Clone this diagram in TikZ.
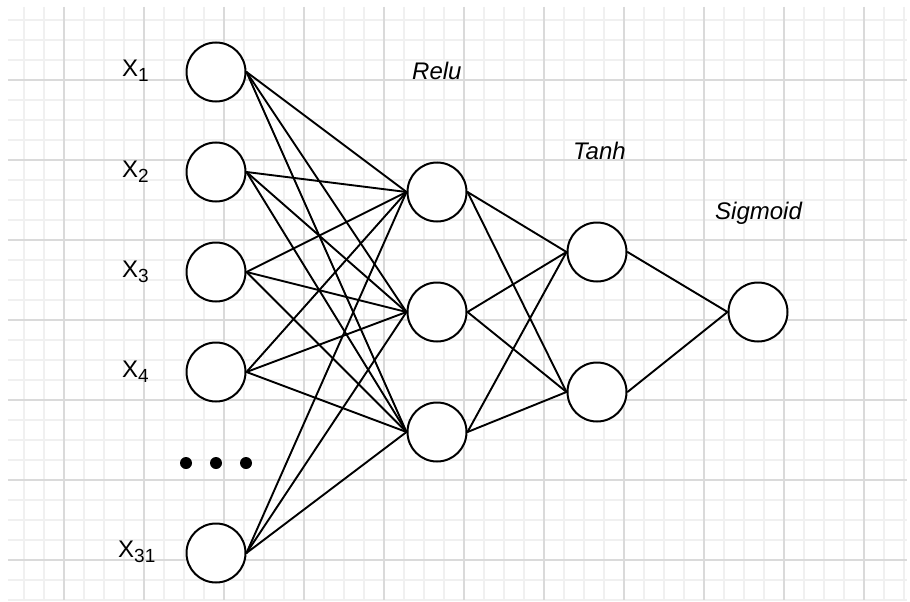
\documentclass[tikz,border=0pt]{standalone}
\usepackage{fontspec}
\setmainfont{Liberation Sans}
\newcommand\lowidx[1]{\raisebox{-5pt}{\fontsize{19}{20}\selectfont #1}}
\definecolor{gridmajor}{HTML}{DADADA}
\definecolor{gridminor}{HTML}{F0F0F0}
\begin{document}
\begin{tikzpicture}[x=1pt,y=-1pt,
  neuron/.style={circle, draw=black, line width=2pt, minimum size=59pt, inner sep=0pt, fill=white},
  link/.style={line width=1.9pt, line cap=round},
  lbl/.style={font=\fontsize{24}{28}\selectfont, inner sep=0pt, anchor=base west},
  act/.style={lbl, font=\fontsize{24}{28}\selectfont\itshape},
  dot/.style={circle, fill=black, minimum size=12pt, inner sep=0pt}]
% canvas
\useasboundingbox[fill=white] (0,0) rectangle (910,602);
% background grid: minor lines every 20, major every 80
\foreach \x in {24,44,...,904} \draw[gridminor, line width=1.5pt] (\x,7) -- (\x,600);
\foreach \y in {20,40,...,600} \draw[gridminor, line width=1.5pt] (8,\y) -- (907,\y);
\foreach \x in {64,144,...,864} \draw[gridmajor, line width=1.5pt] (\x,7) -- (\x,600);
\foreach \y in {80,160,...,560} \draw[gridmajor, line width=1.5pt] (8,\y) -- (907,\y);

% input layer
\node[neuron] (x1) at (216,72) {};
\node[neuron] (x2) at (216,172) {};
\node[neuron] (x3) at (216,272) {};
\node[neuron] (x4) at (216,372) {};
\node[neuron] (x31) at (216,553) {};
\node[dot] (d1) at (186,463) {};
\node[dot] (d2) at (216,463) {};
\node[dot] (d3) at (246,463) {};

% hidden layers and output
\node[neuron] (h1) at (437,192) {};
\node[neuron] (h2) at (437,312) {};
\node[neuron] (h3) at (437,432) {};
\node[neuron] (t1) at (597,252) {};
\node[neuron] (t2) at (597,392) {};
\node[neuron] (o) at (758,312) {};

% labels
\node[lbl] (lx1) at (122,77) {X\lowidx{1}};
\node[lbl] (lx2) at (122,177) {X\lowidx{2}};
\node[lbl] (lx3) at (122,277) {X\lowidx{3}};
\node[lbl] (lx4) at (122,377) {X\lowidx{4}};
\node[lbl] (lx31) at (118,557) {X\lowidx{31}};
\node[act] (lrelu) at (412,79) {Relu};
\node[act] (ltanh) at (573,159) {Tanh};
\node[act] (lsig) at (715,219) {Sigmoid};

% connections
\foreach \a in {x1,x2,x3,x4,x31}
  \foreach \b in {h1,h2,h3}
    \draw[link] (\a.east) -- (\b.west);
\foreach \a in {h1,h2,h3}
  \foreach \b in {t1,t2}
    \draw[link] (\a.east) -- (\b.west);
\foreach \a in {t1,t2}
  \draw[link] (\a.east) -- (o.west);
\end{tikzpicture}
\end{document}
